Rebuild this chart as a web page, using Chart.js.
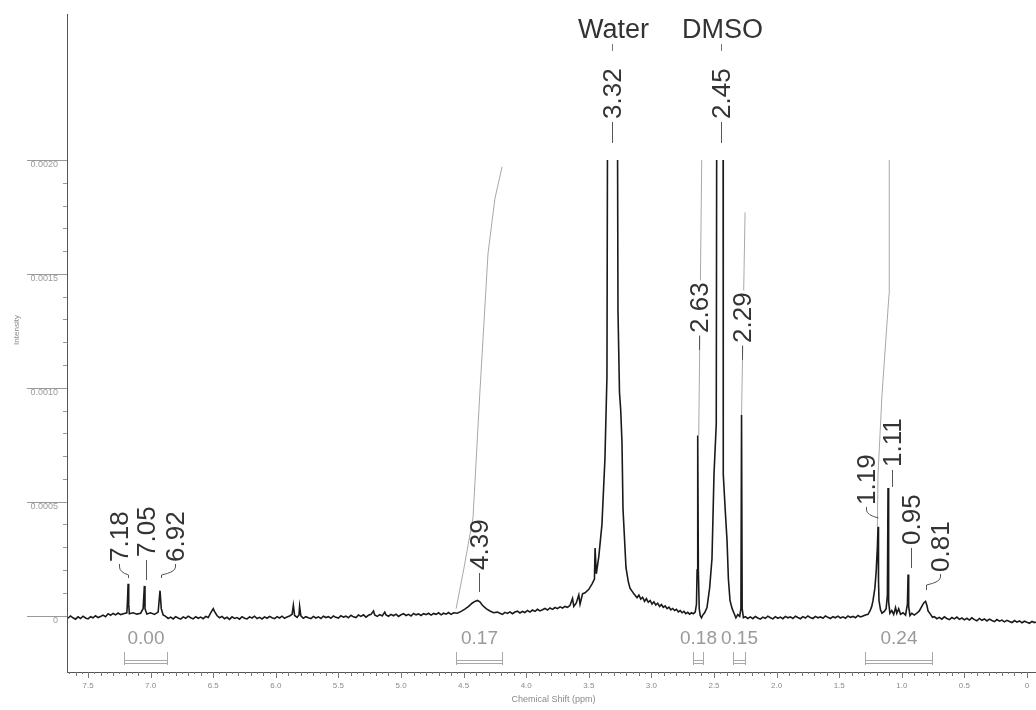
<!DOCTYPE html>
<html>
<head>
<meta charset="utf-8">
<title>1H NMR spectrum</title>
<script src="https://cdn.jsdelivr.net/npm/chart.js@4.4.1/dist/chart.umd.min.js"></script>
<style>
  html, body { margin: 0; padding: 0; background: #fff; }
  #wrap { width: 1036px; height: 710px; position: relative; }
</style>
</head>
<body>
<div id="wrap"><canvas id="nmrChart"></canvas></div>
<script>
// Spectrum: [chemical shift (ppm), intensity x 1e-4]
// Water / DMSO peaks run off scale (drawn clipped at 0.0020)
const spectrum = [
  [7.66,-0.12],[7.64,-0.02],[7.62,-0.10],[7.60,-0.16],[7.58,-0.06],[7.56,-0.13],[7.54,-0.03],[7.52,-0.11],
  [7.50,-0.15],[7.48,-0.05],[7.46,-0.10],[7.44,-0.01],[7.42,-0.09],[7.40,-0.04],[7.38,0.02],[7.36,-0.05],
  [7.34,0.08],[7.32,0.01],[7.30,0.09],[7.28,0.03],[7.26,0.11],[7.24,0.04],
  [7.21,0.09],[7.19,0.12],[7.185,0.6],[7.18,1.39],[7.175,0.5],[7.17,0.08],[7.14,0.12],[7.11,0.06],
  [7.08,0.10],[7.06,0.3],[7.05,1.30],[7.045,0.3],[7.03,0.07],[7.00,0.12],[6.97,0.05],[6.94,0.15],
  [6.925,1.09],[6.915,0.3],[6.90,0.02],
  [6.88,-0.04],[6.86,-0.13],[6.84,-0.07],[6.82,-0.15],[6.80,-0.05],[6.78,-0.11],[6.76,-0.16],[6.74,-0.06],
  [6.72,-0.12],[6.70,-0.03],[6.68,-0.10],[6.66,-0.15],[6.64,-0.05],[6.62,-0.12],[6.60,-0.07],[6.58,-0.14],
  [6.56,-0.04],[6.54,-0.09],[6.52,0.12],[6.50,0.30],[6.49,0.18],[6.47,0.0],[6.45,-0.10],[6.43,-0.04],
  [6.41,-0.14],[6.39,-0.08],[6.37,-0.17],[6.35,-0.06],[6.33,-0.13],[6.31,-0.09],[6.29,-0.16],[6.27,-0.05],
  [6.25,-0.12],[6.23,-0.15],[6.21,-0.06],[6.19,-0.11],[6.17,-0.03],[6.15,-0.13],[6.13,-0.08],[6.11,-0.15],
  [6.09,-0.06],[6.07,-0.12],[6.05,-0.04],[6.03,-0.10],[6.01,-0.14],[5.99,-0.05],[5.97,-0.11],[5.95,-0.03],
  [5.93,-0.12],[5.91,-0.06],[5.89,-0.02],[5.87,0.05],[5.86,0.45],[5.85,0.0],[5.83,-0.08],[5.815,0.02],
  [5.81,0.40],[5.80,-0.02],[5.78,-0.12],[5.76,-0.05],[5.74,-0.10],[5.72,-0.14],[5.70,-0.04],[5.68,-0.11],
  [5.66,-0.06],[5.64,-0.13],[5.62,-0.03],[5.60,-0.09],[5.58,-0.05],[5.56,-0.12],[5.54,-0.02],[5.52,-0.08],
  [5.50,-0.11],[5.48,-0.01],[5.46,-0.07],[5.44,-0.03],[5.42,-0.10],[5.40,0.01],[5.38,-0.06],[5.36,-0.09],
  [5.34,0.02],[5.32,-0.04],[5.30,0.03],[5.28,-0.07],[5.26,0.01],[5.24,0.05],[5.22,0.20],[5.21,0.02],
  [5.19,-0.04],[5.17,0.04],[5.15,-0.02],[5.13,0.15],[5.12,0.03],[5.10,-0.03],[5.08,0.05],[5.06,-0.01],
  [5.04,0.06],[5.02,-0.04],[5.00,0.03],[4.98,0.08],[4.96,0.0],[4.94,0.05],[4.92,-0.02],[4.90,0.09],
  [4.88,0.03],[4.86,0.07],[4.84,0.0],[4.82,0.08],[4.80,0.04],[4.78,0.10],[4.76,0.02],[4.74,0.09],
  [4.72,0.05],[4.70,0.12],[4.68,0.03],[4.66,0.10],[4.64,0.06],[4.62,0.13],[4.60,0.05],[4.58,0.12],
  [4.55,0.10],[4.52,0.18],[4.49,0.28],[4.46,0.40],[4.43,0.55],[4.41,0.62],[4.39,0.66],[4.37,0.60],
  [4.35,0.45],[4.32,0.30],[4.29,0.20],[4.26,0.12],[4.23,0.15],
  [4.21,0.10],[4.19,0.05],[4.17,0.14],[4.15,0.09],[4.13,0.16],[4.11,0.08],[4.09,0.15],[4.07,0.19],
  [4.05,0.11],[4.03,0.18],[4.01,0.13],[3.99,0.22],[3.97,0.15],[3.95,0.24],[3.93,0.18],[3.91,0.27],
  [3.89,0.20],[3.87,0.25],[3.85,0.31],[3.83,0.24],[3.81,0.33],[3.79,0.27],[3.77,0.35],[3.75,0.30],
  [3.73,0.38],[3.71,0.33],[3.69,0.40],[3.67,0.36],[3.65,0.45],[3.63,0.75],[3.62,0.40],[3.60,0.55],
  [3.58,0.90],[3.57,0.50],[3.55,0.95],[3.53,1.0],[3.50,1.15],[3.474,1.39],[3.455,1.6],[3.45,2.96],
  [3.44,1.83],[3.42,2.6],[3.395,4.0],[3.371,6.9],[3.355,10.5],[3.347,30],[3.275,30],[3.267,13.4],
  [3.255,9.8],[3.245,9.0],[3.235,7.6],[3.227,4.7],[3.203,2.1],[3.185,1.5],[3.171,1.2],[3.14,0.95],
  [3.115,0.78],[3.10,0.90],[3.085,0.72],[3.07,0.80],[3.055,0.62],[3.04,0.74],[3.025,0.58],[3.01,0.66],
  [2.995,0.50],[2.98,0.60],[2.965,0.46],[2.95,0.54],[2.935,0.40],[2.92,0.48],[2.905,0.36],[2.89,0.42],
  [2.875,0.30],[2.86,0.37],[2.845,0.25],[2.83,0.31],[2.815,0.22],[2.80,0.27],[2.785,0.16],[2.77,0.22],
  [2.755,0.12],[2.74,0.18],[2.725,0.08],[2.71,0.14],[2.695,0.06],[2.68,0.12],[2.665,0.08],
  [2.65,0.15],[2.64,0.5],[2.635,2.0],[2.63,7.9],[2.625,2.0],[2.618,0.3],[2.61,0.0],[2.60,-0.1],
  [2.59,0.02],[2.575,0.12],[2.556,0.35],[2.535,1.2],[2.516,2.5],[2.50,6.2],[2.482,8.4],[2.476,30],
  [2.428,30],[2.426,6.2],[2.41,4.6],[2.396,3.3],[2.385,1.6],[2.372,0.65],[2.355,0.3],[2.34,0.1],
  [2.325,-0.1],[2.31,0.04],[2.295,-0.04],[2.285,0.3],[2.28,8.8],[2.275,0.3],[2.265,-0.1],
  [2.25,-0.05],[2.23,-0.13],[2.21,-0.06],[2.19,-0.14],[2.17,-0.04],[2.15,-0.11],[2.13,-0.16],[2.11,-0.07],
  [2.09,-0.12],[2.07,-0.03],[2.05,-0.10],[2.03,-0.15],[2.01,-0.05],[1.99,-0.12],[1.97,-0.07],[1.95,-0.14],
  [1.93,-0.04],[1.91,-0.10],[1.89,-0.06],[1.87,-0.13],[1.85,-0.03],[1.83,-0.09],[1.81,-0.14],[1.79,-0.05],
  [1.77,-0.11],[1.75,-0.02],[1.73,-0.09],[1.71,-0.13],[1.69,-0.04],[1.67,-0.10],[1.65,-0.06],[1.63,-0.12],
  [1.61,-0.02],[1.59,-0.08],[1.57,-0.13],[1.55,-0.05],[1.53,-0.10],[1.51,-0.03],[1.49,-0.11],[1.47,-0.06],
  [1.45,-0.12],[1.43,-0.02],[1.41,-0.08],[1.39,-0.04],[1.37,-0.10],[1.35,0.0],[1.33,-0.06],[1.31,-0.02],
  [1.29,0.02],[1.27,0.05],[1.254,0.2],[1.24,0.4],[1.23,0.65],[1.215,1.2],[1.205,1.9],[1.195,3.0],
  [1.19,3.9],[1.186,1.5],[1.182,0.65],[1.17,0.25],[1.158,0.1],[1.14,0.18],[1.125,0.3],[1.115,0.9],
  [1.11,5.6],[1.105,0.6],[1.095,0.1],[1.08,0.22],[1.065,0.05],[1.05,0.35],[1.04,0.1],[1.025,0.3],
  [1.01,0.05],[0.99,0.12],[0.97,0.02],[0.955,0.5],[0.95,1.8],[0.945,0.4],[0.935,0.0],[0.92,0.1],
  [0.90,0.02],[0.88,0.1],[0.86,0.2],[0.84,0.4],[0.825,0.55],[0.81,0.62],[0.80,0.45],[0.79,0.2],
  [0.77,0.05],[0.755,-0.08],
  [0.74,-0.05],[0.72,-0.14],[0.70,-0.08],[0.68,-0.16],[0.66,-0.06],[0.64,-0.13],[0.62,-0.18],[0.60,-0.09],
  [0.58,-0.15],[0.56,-0.07],[0.54,-0.17],[0.52,-0.11],[0.50,-0.19],[0.48,-0.12],[0.46,-0.20],[0.44,-0.10],
  [0.42,-0.18],[0.40,-0.23],[0.38,-0.13],[0.36,-0.21],[0.34,-0.15],[0.32,-0.24],[0.30,-0.16],[0.28,-0.22],
  [0.26,-0.27],[0.24,-0.18],[0.22,-0.25],[0.20,-0.20],[0.18,-0.28],[0.16,-0.21],[0.14,-0.26],[0.12,-0.31],
  [0.10,-0.22],[0.08,-0.29],[0.06,-0.24],[0.04,-0.32],[0.02,-0.25],[0.00,-0.30],[-0.02,-0.34],[-0.04,-0.26],
  [-0.06,-0.31],[-0.07,-0.28]
];

// Integral curves (grey), same units
const integral439 = [[4.56,0.3],[4.50,2.0],[4.425,4.3],[4.37,9.8],[4.305,15.9],[4.25,18.3],[4.193,19.7]];
const integral263 = [[2.622,7.9],[2.598,20.0]];
const integral229 = [[2.28,8.8],[2.252,17.7]];
const integral119 = [[1.195,3.9],[1.19,6.2],[1.158,9.7],[1.102,14.1],[1.10,20.0]];

// Peak picking labels
const peakLabels = ['7.18', '7.05', '6.92', '4.39', '3.32', '2.63', '2.45', '2.29', '1.19', '1.11', '0.95', '0.81'];
const peakShifts = [7.18, 7.05, 6.92, 4.39, 3.32, 2.63, 2.45, 2.29, 1.19, 1.11, 0.95, 0.81];
const solventNames = ['Water', 'DMSO'];
const solventShifts = [3.32, 2.45];

// Integration regions and values
const integralRanges = [[7.21, 6.87], [4.56, 4.19], [2.67, 2.59], [2.35, 2.25], [1.29, 0.76]];
const integralValues = ['0.00', '0.17', '0.18', '0.15', '0.24'];

// Axis ticks
const xTickValues = [0, 0.5, 1, 1.5, 2, 2.5, 3, 3.5, 4, 4.5, 5, 5.5, 6, 6.5, 7, 7.5];
const xTickLabels = ['0', '0.5', '1.0', '1.5', '2.0', '2.5', '3.0', '3.5', '4.0', '4.5', '5.0', '5.5', '6.0', '6.5', '7.0', '7.5'];
const yTickValues = [0, 0.0005, 0.0010, 0.0015, 0.0020];
const yTickLabels = ['0', '0.0005', '0.0010', '0.0015', '0.0020'];
const FULL_SCALE = 0.0020;

// label placement (pixels): text centre offset from peak, text start y, leader style / end
const labelLayout = [
    { dx: -9, bottom: 562, leader: 'bend', end: 578 },
    { dx: 2, bottom: 557, leader: 'line', end: 580 },
    { dx: 14, bottom: 562, leader: 'bend', end: 578 },
    { dx: 2, bottom: 570, leader: 'line', end: 592 },
    { dx: 1, bottom: 119, leader: 'line', end: 143 },
    { dx: 1, bottom: 333, leader: 'line', end: 350, knockout: true },
    { dx: 1, bottom: 119, leader: 'line', end: 143 },
    { dx: 2, bottom: 343, leader: 'line', end: 360, knockout: true },
    { dx: -12, bottom: 505, leader: 'bend', end: 518 },
    { dx: 4, bottom: 467, leader: 'line', end: 487 },
    { dx: 3, bottom: 545, leader: 'line', end: 568 },
    { dx: 14, bottom: 572, leader: 'bend', end: 590 }
];

const FONT = '"Liberation Sans", Arial, sans-serif';
const toPoints = arr => arr.map(p => ({ x: p[0], y: p[1] * 1e-4 }));

function greyCurve(arr) {
    return {
        data: toPoints(arr),
        showLine: true,
        borderColor: '#a8a8a8',
        borderWidth: 1,
        pointRadius: 0,
        fill: false
    };
}

const nmrPlugin = {
    id: 'nmrDecor',
    beforeDatasetsDraw(chart) {
        // spectrum display is cut at full scale
        const { ctx, chartArea, scales } = chart;
        const top = scales.y.getPixelForValue(FULL_SCALE);
        ctx.save();
        ctx.beginPath();
        ctx.rect(chartArea.left, top, chartArea.right - chartArea.left, chartArea.bottom - top);
        ctx.clip();
    },
    afterDatasetsDraw(chart) {
        const { ctx, scales } = chart;
        ctx.restore();
        const xs = scales.x;

        // peak labels, rotated
        ctx.save();
        ctx.font = '26px ' + FONT;
        ctx.lineWidth = 1;
        peakLabels.forEach((txt, i) => {
            const lay = labelLayout[i];
            const px = xs.getPixelForValue(peakShifts[i]);
            const cx = Math.round(px + lay.dx) + 0.5;
            const w = ctx.measureText(txt).width;
            ctx.save();
            ctx.translate(cx, lay.bottom);
            ctx.rotate(-Math.PI / 2);
            if (lay.knockout) {
                ctx.fillStyle = '#fff';
                ctx.fillRect(-2, -10, w + 4, 20);
            }
            ctx.fillStyle = '#333';
            ctx.textAlign = 'left';
            ctx.textBaseline = 'middle';
            ctx.fillText(txt, 0, 1);
            ctx.restore();

            ctx.strokeStyle = '#555';
            ctx.beginPath();
            if (lay.leader === 'line') {
                ctx.moveTo(cx, lay.bottom + 3);
                ctx.lineTo(cx, lay.end);
            } else {
                const pxr = Math.round(px) + 0.5;
                ctx.moveTo(cx, lay.bottom + 2);
                ctx.lineTo(cx, lay.bottom + 5);
                ctx.quadraticCurveTo(cx, lay.bottom + 10, pxr, lay.bottom + 13);
                ctx.lineTo(pxr, lay.end);
            }
            ctx.stroke();
        });

        // solvent names
        ctx.font = '27px ' + FONT;
        ctx.fillStyle = '#333';
        ctx.textAlign = 'center';
        ctx.textBaseline = 'alphabetic';
        solventNames.forEach((name, i) => {
            const px = Math.round(xs.getPixelForValue(solventShifts[i])) + 0.5;
            ctx.fillText(name, px + 2, 38);
            ctx.strokeStyle = '#777';
            ctx.beginPath();
            ctx.moveTo(px + 1, 44);
            ctx.lineTo(px + 1, 51);
            ctx.stroke();
        });
        ctx.restore();

        // integration brackets
        ctx.save();
        ctx.font = '19px ' + FONT;
        ctx.fillStyle = '#9a9a9a';
        ctx.strokeStyle = '#a8a8a8';
        ctx.lineWidth = 1;
        ctx.textAlign = 'center';
        ctx.textBaseline = 'middle';
        integralRanges.forEach((r, i) => {
            const a = Math.round(xs.getPixelForValue(r[0])) + 0.5;
            const b = Math.round(xs.getPixelForValue(r[1])) + 0.5;
            ctx.fillText(integralValues[i], (a + b) / 2, 639);
            ctx.beginPath();
            ctx.moveTo(a, 652); ctx.lineTo(a, 665);
            ctx.moveTo(b, 652); ctx.lineTo(b, 665);
            ctx.moveTo(a, 660.5); ctx.lineTo(b, 660.5);
            ctx.moveTo(a, 663.5); ctx.lineTo(b, 663.5);
            ctx.stroke();
        });
        ctx.restore();
    },
    afterDraw(chart) {
        const { ctx, chartArea, scales } = chart;
        const xs = scales.x, ys = scales.y;
        ctx.save();
        ctx.lineWidth = 1;

        // x ticks: every 0.05 ppm, longer at labelled ones
        ctx.strokeStyle = '#777';
        ctx.beginPath();
        for (let i = 0; i <= 153; i++) {
            const px = Math.round(xs.getPixelForValue(i * 0.05)) + 0.5;
            const len = i % 10 === 0 ? 6 : (i % 2 === 0 ? 4 : 2);
            ctx.moveTo(px, chartArea.bottom);
            ctx.lineTo(px, chartArea.bottom + len);
        }
        ctx.stroke();

        // y ticks: long rules at labelled values, short ones every 0.0001
        ctx.strokeStyle = '#9a9a9a';
        ctx.beginPath();
        for (let i = 0; i <= 20; i++) {
            const py = Math.round(ys.getPixelForValue(i * 0.0001)) + 0.5;
            const len = i % 5 === 0 ? 40 : 4;
            ctx.moveTo(chartArea.left - len, py);
            ctx.lineTo(chartArea.left, py);
        }
        ctx.stroke();

        // axis titles
        ctx.fillStyle = '#8a8a8a';
        ctx.textAlign = 'center';
        ctx.textBaseline = 'middle';
        ctx.font = '9px ' + FONT;
        ctx.fillText('Chemical Shift (ppm)', (chartArea.left + chartArea.right) / 2 + 2, 700);
        ctx.save();
        ctx.translate(17, 330);
        ctx.rotate(-Math.PI / 2);
        ctx.font = '8px ' + FONT;
        ctx.fillText('Intensity', 0, 0);
        ctx.restore();
        ctx.restore();
    }
};

new Chart(document.getElementById('nmrChart'), {
    type: 'scatter',
    data: {
        datasets: [
            {
                data: toPoints(spectrum),
                showLine: true,
                borderColor: '#1a1a1a',
                borderWidth: 1.6,
                pointRadius: 0,
                fill: false
            },
            greyCurve(integral439),
            greyCurve(integral263),
            greyCurve(integral229),
            greyCurve(integral119)
        ]
    },
    options: {
        responsive: true,
        maintainAspectRatio: false,
        animation: false,
        events: [],
        layout: { padding: { top: 8, right: 0, left: 0, bottom: 0 } },
        plugins: {
            legend: { display: false },
            tooltip: { enabled: false }
        },
        scales: {
            x: {
                type: 'linear',
                reverse: true,
                min: -0.072,
                max: 7.668,
                afterBuildTicks: scale => { scale.ticks = xTickValues.map(v => ({ value: v })); },
                afterFit: scale => { scale.height = 38; },
                grid: { display: false, drawTicks: false },
                border: { display: true, color: '#555', width: 1 },
                ticks: {
                    autoSkip: false,
                    maxRotation: 0,
                    padding: 9,
                    color: '#8a8a8a',
                    font: { family: FONT, size: 8 },
                    callback: (v, i) => xTickLabels[i]
                }
            },
            y: {
                type: 'linear',
                min: -0.000248,
                max: 0.002639,
                afterBuildTicks: scale => { scale.ticks = yTickValues.map(v => ({ value: v })); },
                afterFit: scale => { scale.width = 67; },
                grid: { display: false, drawTicks: false },
                border: { display: true, color: '#555', width: 1 },
                ticks: {
                    padding: 9,
                    labelOffset: 5,
                    color: '#9a9a9a',
                    font: { family: FONT, size: 9 },
                    callback: (v, i) => yTickLabels[i]
                }
            }
        }
    },
    plugins: [nmrPlugin]
});
</script>
</body>
</html>
